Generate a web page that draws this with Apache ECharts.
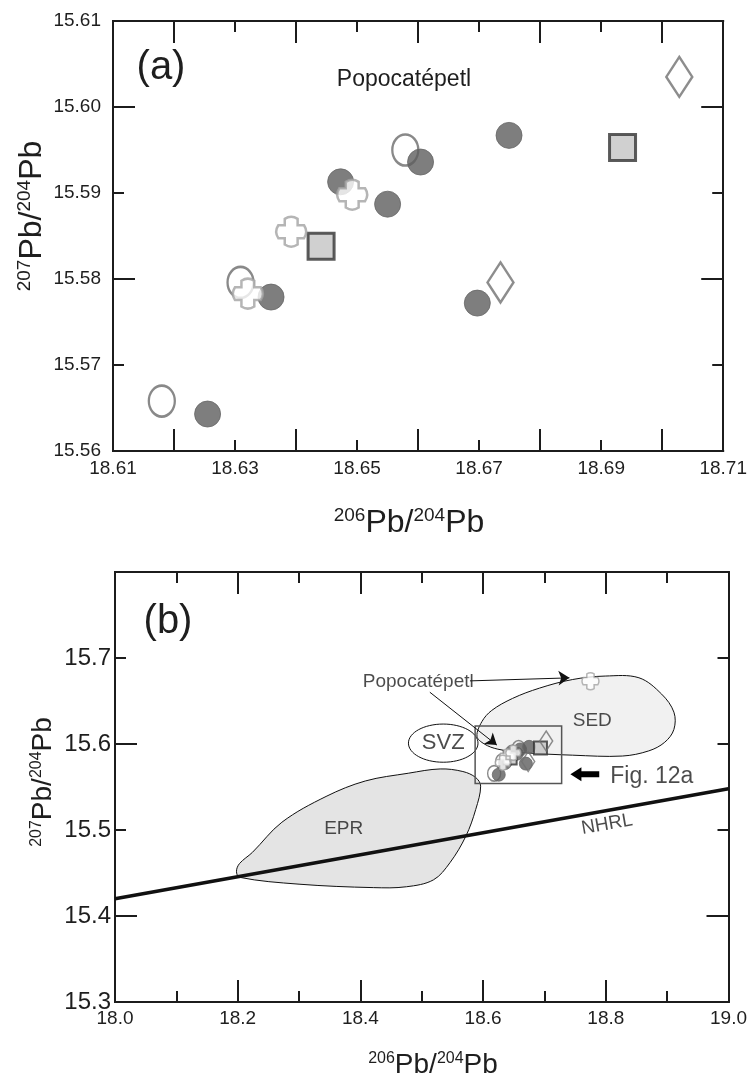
<!DOCTYPE html>
<html><head><meta charset="utf-8">
<script src="https://cdn.jsdelivr.net/npm/echarts@6/dist/echarts.min.js"></script>
<style>html,body{margin:0;padding:0;background:#fff}#c{width:750px;height:1088px}</style>
</head><body><div id="c"></div>
<script>
// ---------- Panel (a): axis ticks ----------
const aXLabels = [18.61, 18.63, 18.65, 18.67, 18.69, 18.71];
const aXLong   = [18.62, 18.64, 18.66, 18.68, 18.70];
const aYLabels = [15.56, 15.57, 15.58, 15.59, 15.60, 15.61];
const aYLong   = [15.58, 15.60];
const aYShort  = [15.57, 15.59];

// ---------- Panel (a): Popocatépetl samples ----------
const filledX = [18.6255, 18.6359, 18.6473, 18.6550, 18.6604, 18.6749, 18.6697];
const filledY = [15.5643, 15.5779, 15.5913, 15.5887, 15.5936, 15.5967, 15.5772];
const openX   = [18.6180, 18.6309, 18.6579];
const openY   = [15.5658, 15.5796, 15.5950];
const crossX  = [18.6392, 18.6492, 18.6321];
const crossY  = [15.5855, 15.5898, 15.5783];
const squareX = [18.6441, 18.6935];
const squareY = [15.5838, 15.5953];
const diamondX = [18.7028, 18.6735];
const diamondY = [15.6035, 15.5796];

// ---------- Panel (b): axis ticks ----------
const bXLabels = [18.0, 18.2, 18.4, 18.6, 18.8, 19.0];
const bXShort  = [18.1, 18.3, 18.5, 18.7, 18.9];
const bYLabels = [15.3, 15.4, 15.5, 15.6, 15.7];
const bYLeftLong = [15.4, 15.6];
const bYLeftShort = [15.5, 15.7];
const bYRightLong = [15.4];
const bYRightShort = [15.5, 15.6, 15.7];

// ---------- Panel (b): fields and lines ----------
const eprX = [18.198, 18.203, 18.224, 18.272, 18.344, 18.408, 18.478, 18.530, 18.567, 18.588, 18.596, 18.588, 18.572, 18.546, 18.519, 18.475, 18.421, 18.300, 18.203];
const eprY = [15.452, 15.461, 15.474, 15.509, 15.539, 15.557, 15.566, 15.571, 15.568, 15.561, 15.551, 15.524, 15.493, 15.462, 15.442, 15.434, 15.433, 15.437, 15.445];
const sedX = [18.590, 18.598, 18.614, 18.648, 18.692, 18.746, 18.799, 18.854, 18.891, 18.911, 18.911, 18.896, 18.870, 18.827, 18.746, 18.665, 18.624, 18.602];
const sedY = [15.609, 15.626, 15.639, 15.653, 15.665, 15.675, 15.679, 15.677, 15.658, 15.637, 15.617, 15.602, 15.592, 15.586, 15.587, 15.590, 15.594, 15.600];
const svzCenter = [18.535, 15.601];
const svzRadius = [0.0567, 0.0222];
const nhrlX = [18.0, 19.0];
const nhrlY = [15.420, 15.548];
const figBoxX = [18.587, 18.728];
const figBoxY = [15.554, 15.621];
const extraCross = [18.775, 15.673];
const arrowLines = [
  [[18.5786, 15.6734], [18.7407, 15.6769]],
  [[18.5132, 15.6602], [18.6224, 15.5987]]
];
const figArrowX = [18.7423, 18.7893];
const figArrowY = 15.5649;
const bLabelText = ['SED', 'EPR', 'SVZ', 'NHRL', 'Popocatépetl', 'Fig. 12a'];
const bLabelX = [18.778, 18.3728, 18.535, 18.802, 18.4943, 18.875];
const bLabelY = [15.627, 15.5013, 15.601, 15.5065, 15.6722, 15.5625];

const FONT = "'Liberation Sans',Arial,Helvetica,sans-serif";
const AX = '#1c1c1c';
const TXT = '#1e1e1e';

function mkAxis(grid, position, min, max, ticks, len, labels, lab) {
  return {
    type: 'value', gridIndex: grid, position: position, min: min, max: max, scale: true,
    axisLine: {show: true, onZero: false, lineStyle: {color: AX, width: 2}},
    axisTick: {show: true, inside: true, length: len, customValues: ticks, lineStyle: {color: AX, width: 2}},
    axisLabel: labels ? Object.assign({show: true, customValues: labels, color: TXT}, lab) : {show: false},
    splitLine: {show: false}
  };
}
const aXLab = {fontFamily: FONT, fontSize: 19, margin: 8, formatter: v => v.toFixed(2)};
const aYLab = {fontFamily: FONT, fontSize: 19, margin: 12, formatter: v => v.toFixed(2)};
const bXLab = {fontFamily: FONT, fontSize: 19, margin: 7, formatter: v => v.toFixed(1)};
const bYLab = {fontFamily: FONT, fontSize: 24, margin: 4, formatter: v => v.toFixed(1)};

const xAxes = [
  mkAxis(0, 'bottom', 18.61, 18.71, aXLabels, 11, aXLabels, aXLab),
  mkAxis(0, 'bottom', 18.61, 18.71, aXLong, 22),
  mkAxis(0, 'top', 18.61, 18.71, aXLabels, 11),
  mkAxis(0, 'top', 18.61, 18.71, aXLong, 22),
  mkAxis(1, 'bottom', 18.0, 19.0, bXLabels, 22, bXLabels, bXLab),
  mkAxis(1, 'bottom', 18.0, 19.0, bXShort, 11),
  mkAxis(1, 'top', 18.0, 19.0, bXLabels, 22),
  mkAxis(1, 'top', 18.0, 19.0, bXShort, 11)
];
const yAxes = [
  mkAxis(0, 'left', 15.56, 15.61, aYShort, 11, aYLabels, aYLab),
  mkAxis(0, 'left', 15.56, 15.61, aYLong, 22),
  mkAxis(0, 'right', 15.56, 15.61, aYShort, 11),
  mkAxis(0, 'right', 15.56, 15.61, aYLong, 22),
  mkAxis(1, 'left', 15.3, 15.8, bYLeftShort, 11, bYLabels, bYLab),
  mkAxis(1, 'left', 15.3, 15.8, bYLeftLong, 22),
  mkAxis(1, 'right', 15.3, 15.8, bYRightShort, 11),
  mkAxis(1, 'right', 15.3, 15.8, bYRightLong, 22)
];

const CROSS = 'path://M9,9L9,3Q15,-1 21,3L21,9L27,9Q31,15 27,21L21,21L21,27Q15,31 9,27L9,21L3,21Q-1,15 3,9Z';
function pts(xs, ys) { return xs.map((x, i) => [x, ys[i]]); }

function markerSeries(ax, k, bw) {
  return [
    {type: 'scatter', xAxisIndex: ax, yAxisIndex: ax, data: pts(openX, openY), symbol: 'circle',
     symbolSize: [26 * k, 31 * k], itemStyle: {color: 'rgba(255,255,255,0)', borderColor: '#6b6b6b', borderWidth: bw}, z: 5},
    {type: 'scatter', xAxisIndex: ax, yAxisIndex: ax, data: pts(filledX, filledY), symbol: 'circle',
     symbolSize: 26 * k, itemStyle: {color: '#5e5e5e', borderColor: '#666', borderWidth: 1}, z: 6},
    {type: 'scatter', xAxisIndex: ax, yAxisIndex: ax, data: pts(squareX, squareY), symbol: 'rect',
     symbolSize: 26 * k, itemStyle: {color: '#c4c4c4', borderColor: '#333', borderWidth: bw + 0.5}, z: 6},
    {type: 'scatter', xAxisIndex: ax, yAxisIndex: ax, data: pts(diamondX, diamondY), symbol: 'diamond',
     symbolSize: [26 * k, 40 * k], itemStyle: {color: 'rgba(255,255,255,0)', borderColor: '#707070', borderWidth: bw}, z: 6},
    {type: 'scatter', xAxisIndex: ax, yAxisIndex: ax, data: pts(crossX, crossY), symbol: CROSS,
     symbolSize: 30 * k, itemStyle: {color: '#fff', borderColor: '#a3a3a3', borderWidth: bw}, z: 7}
  ];
}

function polySeries(xs, ys, fill) {
  return {
    type: 'custom', xAxisIndex: 4, yAxisIndex: 4, data: [0], z: 1, silent: true,
    renderItem: function (p, api) {
      const P = xs.map((x, i) => api.coord([x, ys[i]]));
      return {type: 'polygon', shape: {points: P, smooth: 0.35}, style: {fill: fill, stroke: '#111', lineWidth: 1}};
    }
  };
}

const series = [].concat(
  markerSeries(0, 1, 2.5),
  [
    polySeries(sedX, sedY, '#f1f1f1'),
    polySeries(eprX, eprY, '#e4e4e4'),
    {type: 'line', xAxisIndex: 4, yAxisIndex: 4, data: pts(nhrlX, nhrlY), symbol: 'none',
     lineStyle: {color: '#111', width: 3.5}, z: 3, silent: true},
    {type: 'custom', xAxisIndex: 4, yAxisIndex: 4, data: [0], z: 3, silent: true,
     renderItem: function (p, api) {
       const c = api.coord(svzCenter);
       const s = api.size(svzRadius);
       return {type: 'ellipse', shape: {cx: c[0], cy: c[1], rx: s[0], ry: s[1]}, style: {fill: '#fff', stroke: '#111', lineWidth: 1}};
     }},
    {type: 'custom', xAxisIndex: 4, yAxisIndex: 4, data: [0], z: 4, silent: true,
     renderItem: function (p, api) {
       const a = api.coord([figBoxX[0], figBoxY[1]]);
       const b = api.coord([figBoxX[1], figBoxY[0]]);
       return {type: 'rect', shape: {x: a[0], y: a[1], width: b[0] - a[0], height: b[1] - a[1]},
               style: {fill: 'rgba(0,0,0,0)', stroke: '#555', lineWidth: 1.5}};
     }},
    {type: 'custom', xAxisIndex: 4, yAxisIndex: 4, data: [0], z: 4, silent: true,
     renderItem: function (p, api) {
       const t = api.coord([figArrowX[0], figArrowY]);
       const e = api.coord([figArrowX[1], figArrowY]);
       const P = [[t[0], t[1]], [t[0] + 11, t[1] - 7], [t[0] + 11, t[1] - 3], [e[0], e[1] - 3],
                  [e[0], e[1] + 3], [t[0] + 11, t[1] + 3], [t[0] + 11, t[1] + 7]];
       return {type: 'polygon', shape: {points: P}, style: {fill: '#000'}};
     }},
    {type: 'lines', coordinateSystem: 'cartesian2d', xAxisIndex: 4, yAxisIndex: 4, z: 8, silent: true,
     symbol: ['none', 'arrow'], symbolSize: 11,
     lineStyle: {color: '#111', width: 1, opacity: 1},
     data: arrowLines.map(c => ({coords: c}))},
    {type: 'scatter', xAxisIndex: 4, yAxisIndex: 4, symbol: CROSS, symbolSize: 17, z: 7,
     itemStyle: {color: '#fff', borderColor: '#a3a3a3', borderWidth: 1.5}, data: [extraCross]},
    {type: 'scatter', xAxisIndex: 4, yAxisIndex: 4, symbolSize: 1, z: 9, silent: true,
     itemStyle: {color: 'rgba(0,0,0,0)'},
     label: {show: true, position: 'inside', color: TXT, fontFamily: FONT},
     data: bLabelText.map((t, i) => {
       const sizes = [19, 19, 22, 19, 19, 23];
       const o = {value: [bLabelX[i], bLabelY[i]], label: {formatter: t, fontSize: sizes[i]}};
       if (t === 'NHRL') o.label.rotate = 10;
       return o;
     })}
  ],
  markerSeries(4, 0.5, 1.5)
);

const chart = echarts.init(document.getElementById('c'), null, {renderer: 'canvas'});
const sup = (fs, lh) => ({fontFamily: FONT, fontSize: fs, lineHeight: lh, verticalAlign: 'top', fill: TXT});
const main = (fs, lh) => ({fontFamily: FONT, fontSize: fs, lineHeight: lh, fill: TXT});
function title(x, y, t1, t2, big, small, rot) {
  return {type: 'text', x: x, y: y, rotation: rot || 0, z: 100,
    style: {text: '{s|' + t1 + '}{m|Pb/}{s|' + t2 + '}{m|Pb}', align: 'center', verticalAlign: 'middle',
      rich: {s: sup(small, small * 0.8), m: main(big, big * 1.05)}}};
}
chart.setOption({
  animation: false,
  backgroundColor: '#fff',
  grid: [{left: 113, top: 21, width: 615, height: 430}, {left: 115, top: 572, width: 617, height: 430}],
  xAxis: xAxes,
  yAxis: yAxes,
  series: series,
  graphic: [
    title(409, 523, '206', '204', 32, 19, 0),
    title(32, 216, '207', '204', 32, 19, Math.PI / 2),
    title(433, 1065, '206', '204', 28, 16, 0),
    title(43, 782, '207', '204', 28, 16, Math.PI / 2),
    {type: 'text', x: 161, y: 68, style: {text: '(a)', fontFamily: FONT, fontSize: 40, fill: TXT, align: 'center', verticalAlign: 'middle'}},
    {type: 'text', x: 168, y: 622, style: {text: '(b)', fontFamily: FONT, fontSize: 40, fill: TXT, align: 'center', verticalAlign: 'middle'}},
    {type: 'text', x: 404, y: 80, style: {text: 'Popocatépetl', fontFamily: FONT, fontSize: 23, fill: TXT, align: 'center', verticalAlign: 'middle'}}
  ]
});
</script></body></html>
